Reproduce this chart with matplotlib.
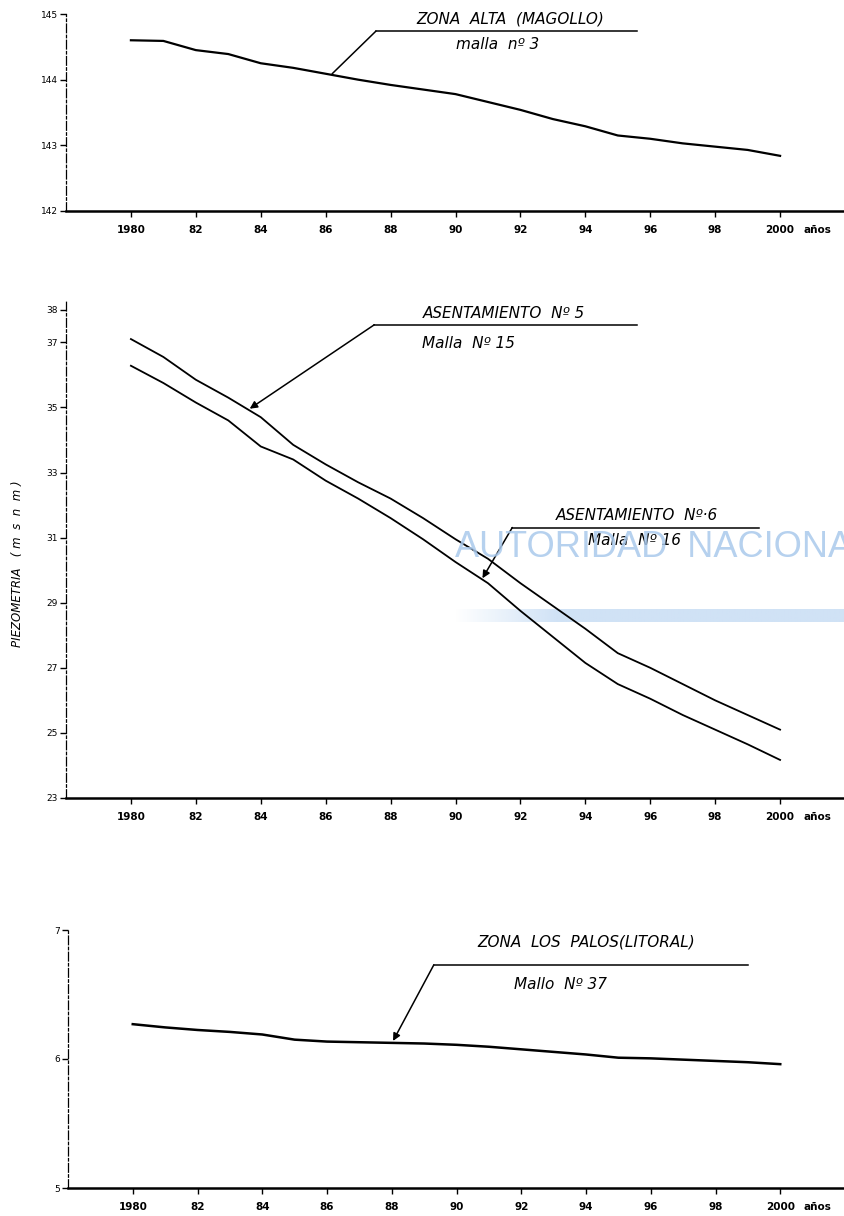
import matplotlib

matplotlib.use("Agg")
import matplotlib.pyplot as plt  # noqa: E402
import numpy as np  # noqa: E402
from matplotlib.colors import to_rgb  # noqa: E402

# Años de la serie (1980-2000)
years = list(range(1980, 2001))

# Zona alta (Magollo), malla nº 3
magollo = [144.60, 144.59, 144.45, 144.39, 144.25, 144.18, 144.09, 144.00, 143.92,
           143.85, 143.78, 143.66, 143.54, 143.40, 143.29, 143.15, 143.10, 143.03,
           142.98, 142.93, 142.84]

# Asentamiento Nº 5, malla Nº 15
asent5 = [37.10, 36.55, 35.85, 35.30, 34.70, 33.85, 33.25, 32.70, 32.20, 31.60,
          30.95, 30.35, 29.60, 28.90, 28.20, 27.45, 27.00, 26.50, 26.00, 25.55, 25.10]

# Asentamiento Nº 6, malla Nº 16
asent6 = [36.28, 35.75, 35.15, 34.60, 33.80, 33.40, 32.75, 32.20, 31.60, 30.95,
          30.25, 29.60, 28.75, 27.95, 27.15, 26.50, 26.05, 25.55, 25.10, 24.65, 24.17]

# Zona Los Palos (litoral), malla Nº 37
los_palos = [6.27, 6.245, 6.225, 6.21, 6.19, 6.15, 6.135, 6.13, 6.125, 6.12, 6.11,
             6.095, 6.075, 6.055, 6.035, 6.01, 6.005, 5.995, 5.985, 5.975, 5.96]

xticks = list(range(1980, 2001, 2))
xticklabels = ["1980", "82", "84", "86", "88", "90", "92", "94", "96", "98", "2000"]

yticks_top = [142, 143, 144, 145]
yticks_mid = [23, 25, 27, 29, 31, 33, 35, 37, 38]
yticks_bot = [5, 6, 7]

W, H = 845, 1216
fig = plt.figure(figsize=(W / 100, H / 100), dpi=100)
fig.patch.set_facecolor("white")


def px_axes(left, top, right, bottom):
    return fig.add_axes([left / W, 1 - bottom / H, (right - left) / W, (bottom - top) / H])


def style_axes(ax, ylim, yticks):
    ax.set_xlim(1978, 2002)
    ax.set_ylim(*ylim)
    ax.set_xticks(xticks)
    ax.set_xticklabels(xticklabels, fontsize=7.5, fontweight="bold")
    ax.set_yticks(yticks)
    ax.set_yticklabels([str(t) for t in yticks], fontsize=6.5)
    for side in ("top", "right"):
        ax.spines[side].set_visible(False)
    ax.spines["bottom"].set_linewidth(1.8)
    ax.spines["left"].set_linewidth(0.9)
    ax.spines["left"].set_linestyle((0, (7, 2, 2, 2)))
    ax.tick_params(axis="x", direction="out", length=4, width=1, pad=6)
    ax.tick_params(axis="y", direction="out", length=4, width=1, pad=2)
    ax.patch.set_alpha(0)
    # "años" después del último año
    ax.annotate("años", xy=(2000, 0), xycoords=("data", "axes fraction"),
                xytext=(17, -10), textcoords="offset points",
                fontsize=7.5, fontweight="bold", ha="left", va="top",
                annotation_clip=False)


def label(ax, title, sub, title_xy, sub_xy, line_x, line_y, tip, arrow=True):
    ax.text(*title_xy, title, fontsize=11, style="italic", ha="center", va="center")
    ax.text(*sub_xy, sub, fontsize=11, style="italic", ha="center", va="center")
    ax.plot(line_x, [line_y, line_y], color="black", lw=1.1, clip_on=False)
    ax.annotate("", xy=tip, xytext=(line_x[0], line_y),
                arrowprops=dict(arrowstyle="-|>" if arrow else "-", color="black",
                                lw=1.1, mutation_scale=11, shrinkA=0, shrinkB=0))


# Marca de agua del documento
fig.text(455 / W, 1 - 548 / H, "AUTORIDAD  NACIONAL DEL AGUA", color="#a9c9ec",
         fontsize=26, family=["Liberation Sans"],
         ha="left", va="center", alpha=0.85, zorder=0)
bar_ax = px_axes(455, 609, W, 622)
bar_ax.axis("off")
grad = np.ones((1, 400, 4))
grad[..., :3] = to_rgb("#b7d3f1")
grad[0, :, 3] = np.clip(np.linspace(0, 2.5, 400), 0, 0.65)
bar_ax.imshow(grad, aspect="auto", extent=(0, 1, 0, 1))

# Panel superior
ax1 = px_axes(66, 14, W, 211)
style_axes(ax1, (142, 145), yticks_top)
ax1.plot(years, magollo, color="black", lw=1.6)
label(ax1, "ZONA  ALTA  (MAGOLLO)", "malla  nº 3", (1991.7, 144.93), (1991.3, 144.53),
      (1987.55, 1995.6), 144.74, (1986.2, 144.09), arrow=False)

# Panel central
ax2 = px_axes(66, 300, W, 798)
style_axes(ax2, (23, 38.3), yticks_mid)
ax2.plot(years, asent5, color="black", lw=1.3)
ax2.plot(years, asent6, color="black", lw=1.3)
label(ax2, "ASENTAMIENTO  Nº 5", "Malla  Nº 15", (1991.5, 37.9), (1990.4, 36.95),
      (1987.5, 1995.6), 37.54, (1983.66, 34.96))
label(ax2, "ASENTAMIENTO  Nº·6", "Malla  Nº 16", (1995.6, 31.68), (1995.5, 30.92),
      (1991.75, 1999.35), 31.31, (1990.83, 29.75))
ax2.text(-0.062, 0.47, "PIEZOMETRIA   ( m  s  n  m )", transform=ax2.transAxes,
         rotation=90, fontsize=8.5, style="italic", ha="center", va="center")

# Panel inferior
ax3 = px_axes(68, 930, W, 1188)
style_axes(ax3, (5, 7), yticks_bot)
ax3.plot(years, los_palos, color="black", lw=1.8)
label(ax3, "ZONA  LOS  PALOS(LITORAL)", "Mallo  Nº 37", (1994.0, 6.91), (1993.2, 6.58),
      (1989.3, 1999.0), 6.73, (1988.04, 6.14))

fig.savefig("out.png", dpi=100, facecolor="white")
